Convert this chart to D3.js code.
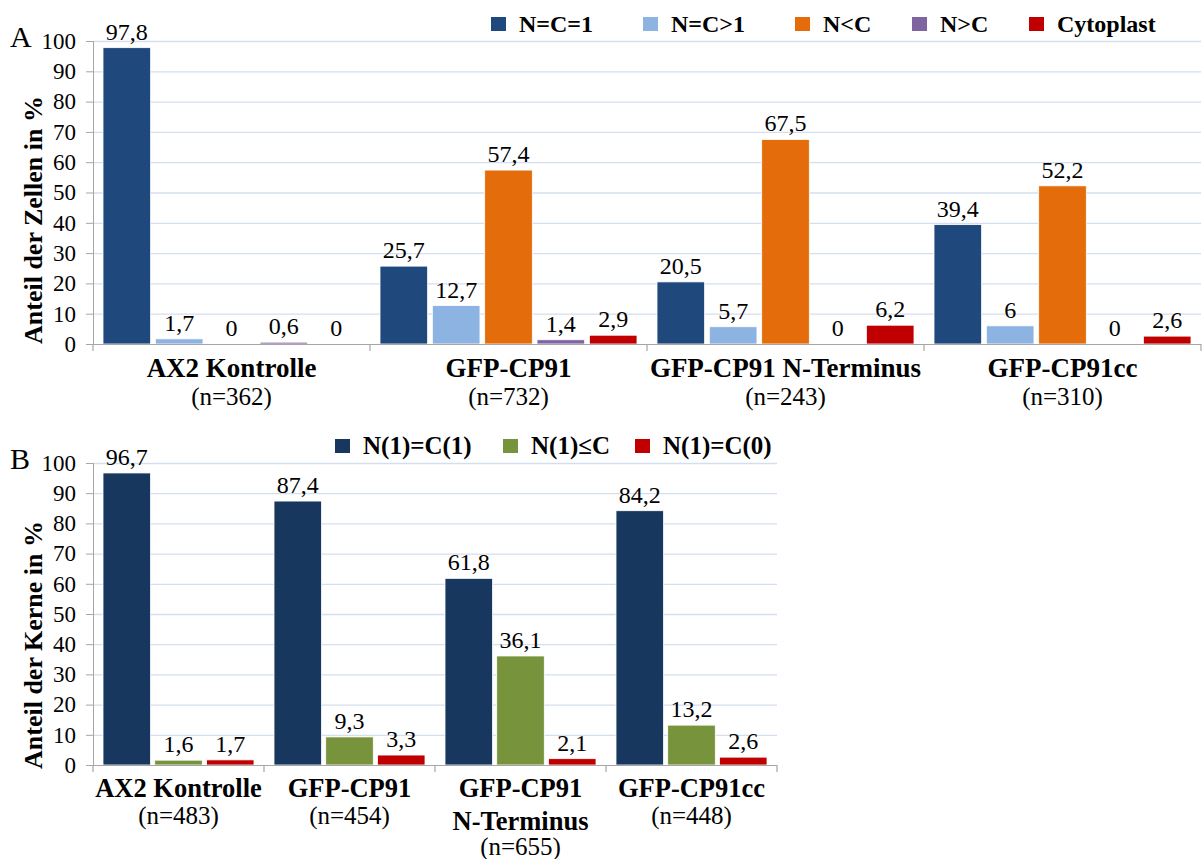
<!DOCTYPE html>
<html><head><meta charset="utf-8">
<script src="https://cdn.jsdelivr.net/npm/d3@7"></script>
<style>
body{margin:0;background:#fff}
</style></head>
<body><svg id="c" width="1202" height="859"></svg>
<script>
// ---- Data: Panel A ----
const catsA = ["AX2 Kontrolle","GFP-CP91","GFP-CP91 N-Terminus","GFP-CP91cc"];
const nA = ["(n=362)","(n=732)","(n=243)","(n=310)"];
const seriesA = ["N=C=1","N=C>1","N<C","N>C","Cytoplast"];
const colorsA = ["#1f497d","#8db3e2","#e46c0a","#8064a2","#c00000"];
const valsA_NC1 = [97.8, 25.7, 20.5, 39.4];
const valsA_NCgt1 = [1.7, 12.7, 5.7, 6];
const valsA_NltC = [0, 57.4, 67.5, 52.2];
const valsA_NgtC = [0.6, 1.4, 0, 0];
const valsA_Cyto = [0, 2.9, 6.2, 2.6];
// ---- Data: Panel B ----
const catsB = [["AX2 Kontrolle"],["GFP-CP91"],["GFP-CP91","N-Terminus"],["GFP-CP91cc"]];
const nB = ["(n=483)","(n=454)","(n=655)","(n=448)"];
const seriesB = ["N(1)=C(1)","N(1)≤C","N(1)=C(0)"];
const colorsB = ["#17375e","#77933c","#c00000"];
const valsB_1 = [96.7, 87.4, 61.8, 84.2];
const valsB_le = [1.6, 9.3, 36.1, 13.2];
const valsB_0 = [1.7, 3.3, 2.1, 2.6];
const yTicks = [0,10,20,30,40,50,60,70,80,90,100];

const FONT = "Liberation Serif, Tinos, Times New Roman, DejaVu Serif, serif";
const svg = d3.select("#c").attr("font-family", FONT);
const fmt = v => String(v).replace(".", ",");

function panel(o){
  const g = svg.append("g");
  const x = d3.scaleBand().domain(d3.range(o.cats.length)).range([o.x0, o.x1]);
  const xi = d3.scaleBand().domain(d3.range(o.series.length)).range([o.padL, x.bandwidth()-o.padR]).paddingInner(o.inner);
  const y = d3.scaleLinear().domain([0,100]).range([o.y0, o.y1]);
  g.append("g").selectAll("line").data(yTicks.filter(t=>t>0)).join("line")
    .attr("x1", o.x0).attr("x2", o.x1).attr("y1", d=>y(d)+0.5).attr("y2", d=>y(d)+0.5)
    .attr("stroke", "#d3def0").attr("stroke-width", 1.3);
  const ya = g.append("g").attr("transform", `translate(${o.x0},0)`)
    .call(d3.axisLeft(y).tickValues(yTicks).tickSize(7).tickPadding(10));
  ya.attr("font-family", FONT).attr("font-size", 23);
  ya.select(".domain").attr("stroke", "#a6a6a6");
  ya.selectAll(".tick line").attr("stroke", "#a6a6a6");
  ya.selectAll(".tick text").attr("fill","#000");
  const grp = g.append("g").selectAll("g").data(o.cats.map((c,i)=>i)).join("g")
    .attr("transform", i => `translate(${x(i)},0)`);
  grp.selectAll("rect").data(i => o.vals.map((s,k)=>({k, v:s[i]}))).join("rect")
    .attr("x", d=>xi(d.k)).attr("width", xi.bandwidth())
    .attr("y", d=>y(d.v)).attr("height", d=>y(0)-y(d.v))
    .attr("fill", d=>o.colors[d.k]).attr("stroke", "#fff").attr("stroke-width", 0.8);
  grp.selectAll("text.v").data(i => o.vals.map((s,k)=>({k, v:s[i]}))).join("text")
    .attr("class","v").attr("x", d=>xi(d.k)+xi.bandwidth()/2).attr("y", d=>y(d.v)-8)
    .attr("text-anchor","middle").attr("font-size",24).text(d=>fmt(d.v));
  g.append("line").attr("x1", o.x0).attr("x2", o.x1).attr("y1", y(0)+0.5).attr("y2", y(0)+0.5)
    .attr("stroke", "#a6a6a6").attr("stroke-width", 1.2);
  g.append("g").selectAll("line").data(d3.range(o.cats.length+1)).join("line")
    .attr("x1", i => o.x0 + i*x.bandwidth()).attr("x2", i => o.x0 + i*x.bandwidth())
    .attr("y1", y(0)).attr("y2", y(0)+7).attr("stroke", "#a6a6a6").attr("stroke-width", 1.2);
  o.cats.forEach((c,i) => {
    const cx = x(i) + x.bandwidth()/2;
    const lines = Array.isArray(c) ? c : [c];
    lines.forEach((ln,j) => {
      g.append("text").attr("x", cx).attr("y", o.catY + j*o.boldStep).attr("text-anchor","middle")
        .attr("font-size",o.catFs).attr("font-weight","bold").text(ln);
    });
    const ns = lines.length > 1 ? o.nStepMulti : o.nStep;
    g.append("text").attr("x", cx).attr("y", o.catY + (lines.length-1)*o.boldStep + ns)
      .attr("text-anchor","middle").attr("font-size",25).text(o.ns[i]);
  });
  g.append("text").attr("transform", `translate(${o.titleX},${(o.titleY)}) rotate(-90)`)
    .attr("text-anchor","middle").attr("font-size",26).attr("font-weight","bold").text(o.title);
  g.append("text").attr("x", 10).attr("y", o.letterY).attr("font-size",30).text(o.letter);
  o.series.forEach((s,k) => {
    g.append("rect").attr("x", o.legX[k]).attr("y", o.legY-7).attr("width", 15).attr("height", 14)
      .attr("fill", o.colors[k]);
    g.append("text").attr("x", o.legX[k]+28).attr("y", o.legY+8)
      .attr("font-size",o.legFs).attr("font-weight","bold").text(s);
  });
}

panel({cats:catsA, ns:nA, series:seriesA, colors:colorsA,
  vals:[valsA_NC1, valsA_NCgt1, valsA_NltC, valsA_NgtC, valsA_Cyto],
  x0:93, x1:1201, padL:10, padR:10, inner:0.09, y0:344, y1:41,
  catY:377, boldStep:34, nStep:28, nStepMulti:28, catFs:27, titleX:42, titleY:220,
  title:"Anteil der Zellen in %", letter:"A", letterY:47,
  legX:[491,643,795,912,1029], legY:24, legFs:24});

panel({cats:catsB, ns:nB, series:seriesB, colors:colorsB,
  vals:[valsB_1, valsB_le, valsB_0],
  x0:93, x1:777, padL:10, padR:10, inner:0.08, y0:765, y1:463,
  catY:797, boldStep:33, nStep:27, nStepMulti:25, catFs:26.5, titleX:42, titleY:645,
  title:"Anteil der Kerne in %", letter:"B", letterY:469,
  legX:[335,503,635], legY:446, legFs:25});
</script></body></html>
